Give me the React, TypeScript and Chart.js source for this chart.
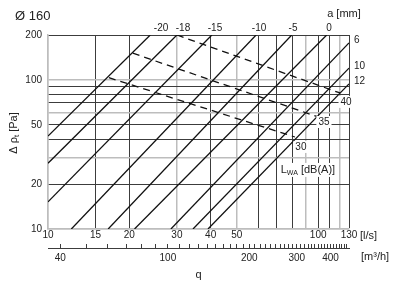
import React, { useEffect, useRef } from 'react';
import { Chart, registerables } from 'chart.js';

Chart.register(...registerables);

// ---- axis values ----
const qGrid = [10, 15, 20, 30, 40, 50, 60, 70, 80, 90, 100, 110, 120, 130];
const qLabels = [10, 15, 20, 30, 40, 50, 100, 130];
const qGray = [10, 30, 50, 90, 120];

const pGrid = [10, 20, 30, 40, 50, 60, 70, 80, 90, 100, 200];
const pLabels = [10, 20, 50, 100, 200];
const pGray = [10, 30, 60, 100];

const m3hTicks = [40, 50, 60, 70, 80, 90, 100, 110, 120, 130, 140, 150, 160, 170, 180, 190, 200,
  210, 220, 230, 240, 250, 260, 270, 280, 290, 300, 310, 320, 330, 340, 350, 360, 370, 380, 390,
  400, 410, 420, 430, 440, 450, 460];
const m3hLabels = [40, 100, 200, 300, 400];

// top axis: damper setting a [mm]
const aLabels = ['-20', '-18', '-15', '-10', '-5', '0'];
const aLabelQ = [26.2, 31.6, 41.5, 60.4, 80.7, 109.6];

// diagonal lines (damper settings)
const aSeries = ['-20', '-18', '-15', '-10', '-5', '0', '6', '10', '12'];
const aStartQ = [10, 10, 10, 12.2, 16.7, 20.9, 28.5, 34.4, 39.1];
const aStartP = [42, 27.6, 15.2, 10, 10, 10, 10, 10, 10];
const aEndQ = [23.9, 30, 40.4, 58.9, 79.8, 107.5, 130, 130, 130];
const aEndP = [200, 200, 200, 200, 200, 200, 177, 120, 94];

const rightLabels = ['6', '10', '12'];
const rightLabelP = [185, 124, 98];

// dashed sound power lines L_WA
const lwaLevels = ['40', '35', '30'];
const lwaStartQ = [30, 20.6, 16.8];
const lwaStartP = [200, 151, 103.5];
const lwaEndQ = [120.4, 100, 82];
const lwaEndP = [81.7, 56.4, 41.4];
const lwaLabelQ = [126.8, 105, 86.3];
const lwaLabelP = [71.2, 52.2, 35.5];
const lwaTitleQ = 91.6;
const lwaTitleP = 24.9;

const FONT = "'Liberation Sans', Arial, Helvetica, sans-serif";
const TEXT = '#222';
const DARK = '#3c3c3c';
const GRAY = '#bdbdbd';
const LINE = '#111';

const textPlugin = {
  id: 'customTexts',
  afterDraw(chart: any) {
    const { ctx, chartArea } = chart;
    const x = chart.scales.x;
    const y = chart.scales.y;
    ctx.save();
    ctx.fillStyle = TEXT;

    // title
    ctx.font = `13px ${FONT}`;
    ctx.textAlign = 'left';
    ctx.textBaseline = 'middle';
    ctx.fillText('Ø 160', 15, 16);

    // a [mm]
    ctx.font = `11px ${FONT}`;
    ctx.textAlign = 'center';
    ctx.fillText('a [mm]', 344, 14);

    // right labels
    ctx.font = `10px ${FONT}`;
    ctx.textAlign = 'left';
    rightLabels.forEach((t, i) => {
      ctx.fillText(t, chartArea.right + 5, y.getPixelForValue(rightLabelP[i]));
    });

    // units
    ctx.font = `11px ${FONT}`;
    ctx.fillText('[l/s]', chartArea.right + 11, chartArea.bottom + 6.5);
    ctx.fillText('[m³/h]', chartArea.right + 12, chartArea.bottom + 27.5);

    // L_WA level labels with white background
    ctx.textAlign = 'center';
    lwaLevels.forEach((t, i) => {
      const cx = x.getPixelForValue(lwaLabelQ[i]);
      const cy = y.getPixelForValue(lwaLabelP[i]);
      ctx.font = `10px ${FONT}`;
      const w = ctx.measureText(t).width;
      ctx.fillStyle = '#fff';
      ctx.fillRect(cx - w / 2 - 2, cy - 6, w + 4, 12);
      ctx.fillStyle = TEXT;
      ctx.fillText(t, cx, cy);
    });

    // L_WA [dB(A)]
    {
      const cx = x.getPixelForValue(lwaTitleQ);
      const cy = y.getPixelForValue(lwaTitleP);
      const big = `11px ${FONT}`;
      const small = `7px ${FONT}`;
      ctx.font = big;
      const wL = ctx.measureText('L').width;
      const wR = ctx.measureText(' [dB(A)]').width;
      ctx.font = small;
      const wS = ctx.measureText('WA').width;
      const total = wL + wS + wR;
      const x0 = cx - total / 2;
      ctx.fillStyle = '#fff';
      ctx.fillRect(x0 - 2, cy - 7, total + 4, 14);
      ctx.fillStyle = TEXT;
      ctx.textAlign = 'left';
      ctx.font = big;
      ctx.fillText('L', x0, cy);
      ctx.font = small;
      ctx.fillText('WA', x0 + wL, cy + 3);
      ctx.font = big;
      ctx.fillText(' [dB(A)]', x0 + wL + wS, cy);
    }

    // y axis title
    {
      ctx.translate(14, (chartArea.top + chartArea.bottom) / 2 + 1);
      ctx.rotate(-Math.PI / 2);
      const big = `11px ${FONT}`;
      const small = `8px ${FONT}`;
      ctx.font = big;
      const w1 = ctx.measureText('Δ ρ').width;
      const w3 = ctx.measureText(' [Pa]').width;
      ctx.font = small;
      const w2 = ctx.measureText('t').width;
      const total = w1 + w2 + w3;
      let px = -total / 2;
      ctx.textAlign = 'left';
      ctx.textBaseline = 'middle';
      ctx.font = big;
      ctx.fillText('Δ ρ', px, 0);
      px += w1;
      ctx.font = small;
      ctx.fillText('t', px, 3);
      px += w2;
      ctx.font = big;
      ctx.fillText(' [Pa]', px, 0);
    }
    ctx.restore();
  },
};

export default function App() {
  const ref = useRef<HTMLCanvasElement>(null);

  useEffect(() => {
    const canvas = ref.current;
    if (!canvas) return;
    Chart.defaults.font.family = FONT;
    Chart.defaults.font.size = 10;
    Chart.defaults.color = TEXT;

    const datasets: any[] = [];
    aSeries.forEach((name, i) => {
      datasets.push({
        label: 'a = ' + name,
        data: [
          { x: aStartQ[i], y: aStartP[i] },
          { x: aEndQ[i], y: aEndP[i] },
        ],
        showLine: true,
        borderColor: LINE,
        borderWidth: 1.3,
        pointRadius: 0,
        xAxisID: 'x',
        yAxisID: 'y',
      });
    });
    lwaLevels.forEach((name, i) => {
      datasets.push({
        label: 'LWA ' + name,
        data: [
          { x: lwaStartQ[i], y: lwaStartP[i] },
          { x: lwaEndQ[i], y: lwaEndP[i] },
        ],
        showLine: true,
        borderColor: LINE,
        borderWidth: 1.3,
        borderDash: [7, 5],
        pointRadius: 0,
        xAxisID: 'x',
        yAxisID: 'y',
      });
    });

    const chart = new Chart(canvas, {
      type: 'scatter',
      data: { datasets },
      options: {
        responsive: false,
        animation: false,
        devicePixelRatio: 1,
        layout: { padding: { left: 0, right: 51, top: 0, bottom: 0 } },
        plugins: { legend: { display: false }, tooltip: { enabled: false }, title: { display: false } },
        scales: {
          x: {
            type: 'logarithmic',
            position: 'bottom',
            weight: 1,
            min: 10,
            max: 130,
            afterBuildTicks: (s: any) => { s.ticks = qGrid.map((v) => ({ value: v })); },
            afterFit: (s: any) => { s.height = 19; },
            ticks: {
              autoSkip: false,
              maxRotation: 0,
              padding: 0,
              color: TEXT,
              font: { size: 10 },
              callback: (v: any) => (qLabels.includes(Number(v)) ? String(v) : ''),
            },
            grid: {
              drawTicks: false,
              color: (c: any) => (qGray.includes(c.tick?.value) ? GRAY : DARK),
              lineWidth: (c: any) => (qGray.includes(c.tick?.value) ? 1.5 : 1),
            },
            border: { color: GRAY, width: 1.5 },
          },
          x2: {
            type: 'logarithmic',
            position: 'bottom',
            weight: 2,
            min: 36,
            max: 468,
            afterBuildTicks: (s: any) => { s.ticks = m3hTicks.map((v) => ({ value: v })); },
            afterFit: (s: any) => { s.height = 42; },
            ticks: {
              autoSkip: false,
              maxRotation: 0,
              padding: 8,
              color: TEXT,
              font: { size: 10 },
              callback: (v: any) => (m3hLabels.includes(Number(v)) ? String(v) : ''),
            },
            grid: { drawOnChartArea: false, drawTicks: true, tickLength: -4, color: DARK, lineWidth: 1 },
            border: { display: true, color: DARK, width: 1 },
            title: { display: true, text: 'q', color: TEXT, font: { size: 11 }, padding: { top: 0, bottom: 8 } },
          },
          xTop: {
            type: 'logarithmic',
            position: 'top',
            min: 10,
            max: 130,
            afterBuildTicks: (s: any) => { s.ticks = aLabelQ.map((v) => ({ value: v })); },
            afterFit: (s: any) => { s.height = 35; },
            ticks: {
              autoSkip: false,
              maxRotation: 0,
              padding: -7,
              color: TEXT,
              font: { size: 10 },
              callback: (_v: any, i: number) => aLabels[i],
            },
            grid: { display: false },
            border: { display: false },
          },
          y: {
            type: 'logarithmic',
            position: 'left',
            min: 10,
            max: 200,
            afterBuildTicks: (s: any) => { s.ticks = pGrid.map((v) => ({ value: v })); },
            afterFit: (s: any) => { s.width = 48; },
            ticks: {
              autoSkip: false,
              padding: 6,
              color: TEXT,
              font: { size: 10 },
              callback: (v: any) => (pLabels.includes(Number(v)) ? String(v) : ''),
            },
            grid: {
              drawTicks: false,
              color: (c: any) => (pGray.includes(c.tick?.value) ? GRAY : DARK),
              lineWidth: (c: any) => (pGray.includes(c.tick?.value) ? 1.5 : 1),
            },
            border: { color: GRAY, width: 1.5 },
          },
        },
      } as any,
      plugins: [textPlugin],
    });
    return () => chart.destroy();
  }, []);

  return (
    <div style={{ position: 'fixed', left: 0, top: 0, width: 400, height: 290, background: '#fff' }}>
      <canvas ref={ref} width={400} height={290} style={{ display: 'block' }} />
    </div>
  );
}
